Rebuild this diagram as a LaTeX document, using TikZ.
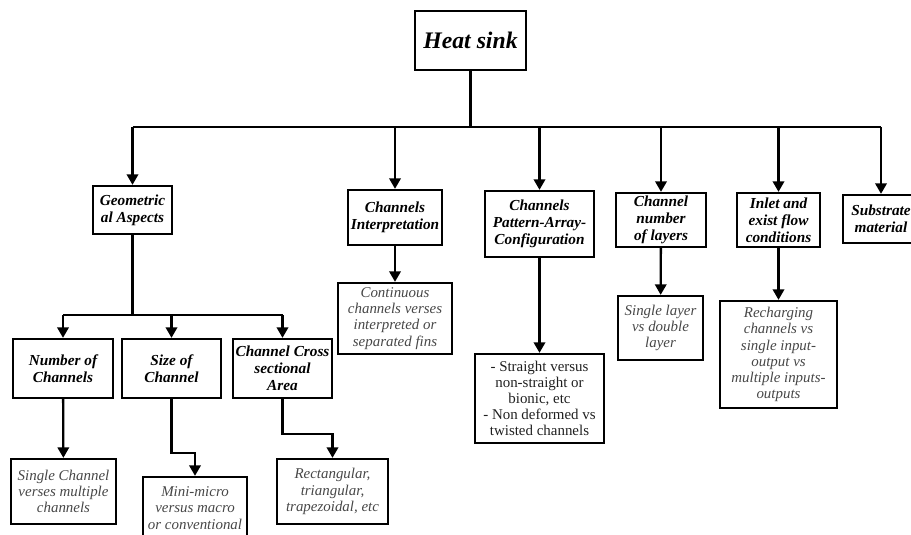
\documentclass[tikz,border=0pt]{standalone}
\usepackage{fontspec}
\setmainfont{Liberation Serif}
\usetikzlibrary{arrows.meta}
\tikzset{
	box/.style={draw, line width=1.3pt, align=center, inner sep=1pt},
	catbox/.style={box, font=\fontsize{8.7}{9.6}\selectfont\bfseries\itshape},
	leafbox/.style={box, text=black!72, font=\fontsize{8.5}{9.2}\selectfont\itshape},
	plainbox/.style={box, text=black!88, font=\fontsize{8.5}{9.2}\selectfont},
	link/.style={line width=1.3pt},
	arr/.style={link, -{Triangle[length=6pt,width=6.5pt]}}
}
\begin{document}
\begin{tikzpicture}[x=0.02cm, y=-0.02cm]
			%%%%% START %%%%%
			\useasboundingbox (0, 0) rectangle (911, 534);
			
			\node[box, minimum width=111*0.02cm, minimum height=59*0.02cm,
				font=\fontsize{13.5}{15}\selectfont\bfseries\itshape] (heat) at (470.5, 40.5) {Heat sink};
			
			% first level
			\node[catbox, minimum width=79*0.02cm, minimum height=48*0.02cm] (geo) at (132.5, 210) {Geometric\\al Aspects};
			\node[catbox, minimum width=94*0.02cm, minimum height=55*0.02cm] (interp) at (395, 217.5) {Channels\\Interpretation};
			\node[catbox, minimum width=109*0.02cm, minimum height=66*0.02cm] (pattern) at (539.5, 224) {Channels\\Pattern-Array-\\Configuration};
			\node[catbox, minimum width=90*0.02cm, minimum height=54*0.02cm] (layers) at (661, 220) {Channel\\number\\of layers};
			\node[catbox, minimum width=83*0.02cm, minimum height=54*0.02cm] (inlet) at (778.5, 220) {Inlet and\\exist flow\\conditions};
			\node[catbox, minimum width=76*0.02cm, minimum height=48*0.02cm] (substrate) at (881, 219) {Substrate\\material};
			
			\draw[link] (heat.south) -- ++(0, 56) coordinate (bus);
			\draw[link] (bus -| geo.north) -- (bus -| substrate.north);
			\foreach \n in {geo, interp, pattern, layers, inlet, substrate}
				\draw[arr] (bus -| \n.north) -- (\n.north);
			
			% leaves under first level
			\node[leafbox, minimum width=114*0.02cm, minimum height=71*0.02cm] (contin) at (395, 318.5) {Continuous\\channels verses\\interpreted or\\separated fins};
			\node[plainbox, minimum width=129*0.02cm, minimum height=89*0.02cm] (patleaf) at (539.5, 398.5) {- Straight versus\\non-straight or\\bionic, etc\\- Non deformed vs\\twisted channels};
			\node[leafbox, minimum width=85*0.02cm, minimum height=64*0.02cm] (layleaf) at (660.5, 328) {Single layer\\vs double\\layer};
			\node[leafbox, minimum width=117*0.02cm, minimum height=107*0.02cm] (recharge) at (778.5, 354.5) {Recharging\\channels vs\\single input-\\output vs\\multiple inputs-\\outputs};
			
			\draw[arr] (interp) -- (contin);
			\draw[arr] (pattern) -- (patleaf);
			\draw[arr] (layers) -- (layleaf);
			\draw[arr] (inlet) -- (recharge);
			
			% geometrical aspects
			\node[catbox, minimum width=100*0.02cm, minimum height=59*0.02cm] (numch) at (63, 368.5) {Number of\\Channels};
			\node[catbox, minimum width=99*0.02cm, minimum height=59*0.02cm] (sizech) at (171.5, 368.5) {Size of\\Channel};
			\node[catbox, minimum width=99*0.02cm, minimum height=59*0.02cm] (cross) at (282.5, 368.5) {Channel Cross\\sectional\\Area};
			
			\draw[link] (geo.south) -- ++(0, 80) coordinate (geobus);
			\draw[link] (geobus -| numch.north) -- (geobus -| cross.north);
			\foreach \n in {numch, sizech, cross}
				\draw[arr] (geobus -| \n.north) -- (\n.north);
			
			\node[leafbox, minimum width=105*0.02cm, minimum height=65*0.02cm] (single) at (63.5, 491.5) {Single Channel\\verses multiple\\channels};
			\node[leafbox, minimum width=104*0.02cm, minimum height=62*0.02cm] (mini) at (195, 508) {Mini-micro\\versus macro\\or conventional};
			\node[leafbox, minimum width=111*0.02cm, minimum height=65*0.02cm] (rect) at (332.5, 491.5) {Rectangular,\\triangular,\\trapezoidal, etc};
			
			\draw[arr] (numch) -- (single);
			\draw[arr] (sizech.south) -- ++(0, 54) -| (mini.north);
			\draw[arr] (cross.south) -- ++(0, 35) -| (rect.north);
			%%%%% END %%%%%
\end{tikzpicture}
\end{document}
